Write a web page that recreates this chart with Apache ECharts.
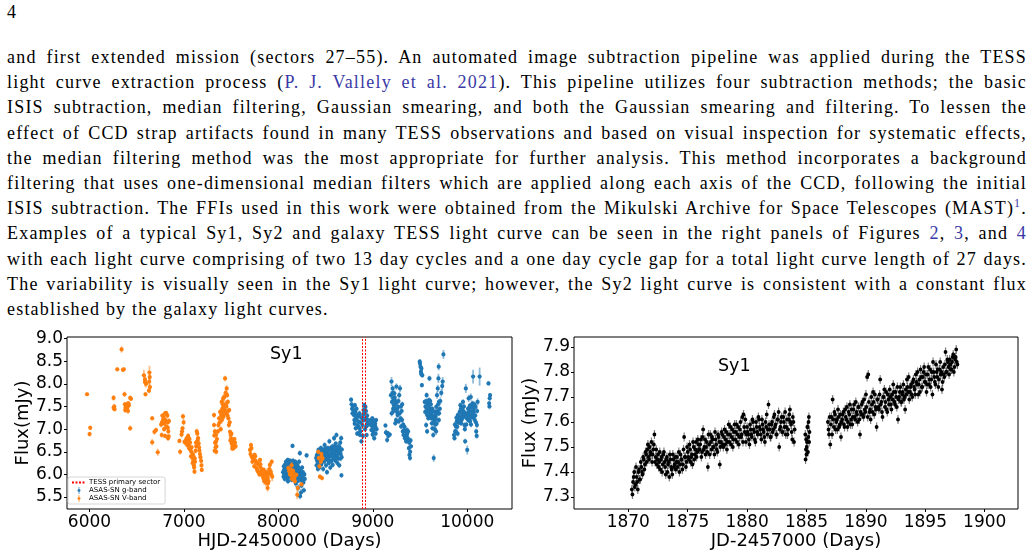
<!DOCTYPE html>
<html>
<head>
<meta charset="utf-8">
<script src="https://cdn.jsdelivr.net/npm/echarts@6/dist/echarts.min.js"></script>
<style>
  body { margin: 0; width: 1034px; height: 556px; overflow: hidden; background: #fff; }
  .txt { position: absolute; left: 7px; width: 1020px; font-family: "Liberation Serif", serif;
         font-size: 18px; line-height: 25px; letter-spacing: 1.2px; color: #000;
         text-align: justify; text-align-last: justify; }
  .txt.last { text-align-last: left; }
  .txt a { color: #3a3aa6; text-decoration: none; }
  .txt sup { font-size: 12px; line-height: 0; }
  #pageno { position: absolute; left: 7px; top: 2px; font-family: "Liberation Serif", serif; font-size: 18px; }
  #chart { position: absolute; left: 0; top: 0; width: 1034px; height: 556px; }
</style>
</head>
<body>
<div id="pageno">4</div>
<div class="txt" style="top:45px">and first extended mission (sectors 27–55). An automated image subtraction pipeline was applied during the TESS</div>
<div class="txt" style="top:70px">light curve extraction process (<a>P. J. Vallely et al. 2021</a>). This pipeline utilizes four subtraction methods; the basic</div>
<div class="txt" style="top:95px">ISIS subtraction, median filtering, Gaussian smearing, and both the Gaussian smearing and filtering. To lessen the</div>
<div class="txt" style="top:121px">effect of CCD strap artifacts found in many TESS observations and based on visual inspection for systematic effects,</div>
<div class="txt" style="top:146px">the median filtering method was the most appropriate for further analysis. This method incorporates a background</div>
<div class="txt" style="top:171px">filtering that uses one-dimensional median filters which are applied along each axis of the CCD, following the initial</div>
<div class="txt" style="top:196px">ISIS subtraction. The FFIs used in this work were obtained from the Mikulski Archive for Space Telescopes (MAST)<a><sup>1</sup></a>.</div>
<div class="txt" style="top:221px">Examples of a typical Sy1, Sy2 and galaxy TESS light curve can be seen in the right panels of Figures <a>2</a>, <a>3</a>, and <a>4</a></div>
<div class="txt" style="top:247px">with each light curve comprising of two 13 day cycles and a one day cycle gap for a total light curve length of 27 days.</div>
<div class="txt" style="top:272px">The variability is visually seen in the Sy1 light curve; however, the Sy2 light curve is consistent with a constant flux</div>
<div class="txt last" style="top:297px">established by the galaxy light curves.</div>
<div id="chart"></div>
<script>
// ASAS-SN V-band (HJD-2450000, mJy, error)
var vDay = [
  5974, 6001, 6008, 6255, 6255, 6265, 6294, 6340, 6354, 6364,
  6371, 6375, 6382, 6388, 6393, 6400, 6405, 6412, 6418, 6431,
  6431, 6440, 6576, 6587, 6593, 6600, 6630, 6635, 6638, 6640,
  6664, 6664, 6688, 6705, 6723, 6759, 6765, 6772, 6778, 6790,
  6800, 6800, 6810, 6818, 6825, 6830, 6835, 6838, 6842, 6952,
  6960, 6975, 6985, 6990, 6997, 7006, 7015, 7030, 7040, 7050,
  7059, 7068, 7075, 7082, 7088, 7094, 7100, 7106, 7112, 7118,
  7124, 7130, 7136, 7142, 7150, 7157, 7164, 7175, 7182, 7189,
  7319, 7319, 7322, 7325, 7330, 7340, 7340, 7342, 7345, 7365,
  7372, 7383, 7390, 7400, 7405, 7410, 7418, 7422, 7428, 7436,
  7440, 7445, 7453, 7458, 7465, 7471, 7476, 7480, 7488, 7495,
  7500, 7506, 7512, 7520, 7528, 7535, 7541, 7548, 7700, 7710,
  7718, 7725, 7740, 7748, 7760, 7770, 7780, 7785, 7795, 7800,
  7806, 7815, 7825, 7833, 7845, 7850, 7860, 7868, 7876, 7885,
  7886, 7895, 7900, 7910, 7918, 7930, 7935, 8105, 8115, 8123,
  8130, 8140, 8140, 8150, 8158, 8165, 8175, 8190, 8200, 8205,
  8245, 8422, 8428, 8435, 8440, 8450, 8455, 8458, 8462, 8468,
  6262, 6378, 6398, 6408, 6588, 6632, 6768, 6785, 6795, 6805,
  6815, 6828, 6832, 6980, 7020, 7035, 7045, 7055, 7065, 7078,
  7092, 7102, 7108, 7115, 7128, 7145, 7160, 7170, 7186, 7328,
  7335, 7350, 7360, 7378, 7395, 7402, 7412, 7416, 7425, 7432,
  7442, 7450, 7462, 7468, 7485, 7492, 7503, 7515, 7525, 7532,
  7705, 7715, 7730, 7745, 7755, 7765, 7775, 7790, 7810, 7820,
  7830, 7840, 7855, 7865, 7880, 7890, 7905, 7925, 8135, 8145,
  8155, 8170
];
var vFlux = [
  7.77, 6.89, 7.03, 7.69, 7.47, 7.44, 8.32, 8.76, 8.31, 8.32,
  7.77, 7.55, 7.48, 7.44, 7.52, 7.46, 7.50, 7.57, 7.53, 7.02,
  7.69, 7.67, 8.19, 8.04, 7.77, 8.00, 7.85, 8.25, 8.15, 7.93,
  7.24, 6.71, 6.94, 6.98, 6.49, 7.10, 6.87, 7.30, 7.20, 7.00,
  7.35, 6.85, 7.36, 7.32, 7.30, 7.03, 6.95, 6.84, 7.18, 6.74,
  6.50, 6.88, 7.02, 7.28, 7.15, 6.72, 6.70, 6.80, 6.72, 6.64,
  6.78, 6.55, 6.40, 6.60, 6.37, 6.45, 6.30, 6.20, 6.06, 6.28,
  6.52, 6.62, 6.95, 6.90, 6.80, 6.68, 6.53, 6.38, 6.30, 6.10,
  7.31, 7.09, 6.86, 6.52, 6.70, 6.87, 6.72, 6.50, 6.62, 7.09,
  7.24, 7.38, 7.00, 7.60, 7.45, 7.38, 7.27, 7.49, 7.71, 8.12,
  7.55, 7.35, 7.90, 7.75, 7.60, 7.24, 7.09, 7.42, 6.94, 6.87,
  6.79, 6.68, 6.57, 6.72, 6.65, 6.78, 6.70, 6.62, 6.54, 6.65,
  6.39, 6.28, 6.36, 6.43, 6.30, 6.14, 6.25, 6.07, 6.21, 6.00,
  6.32, 6.14, 5.99, 6.07, 6.10, 5.85, 5.99, 5.82, 5.92, 5.92,
  5.70, 5.85, 6.00, 6.21, 6.07, 6.28, 5.95, 6.14, 6.07, 6.00,
  6.10, 5.99, 6.20, 5.92, 6.05, 5.95, 5.85, 5.99, 5.55, 5.70,
  5.78, 6.50, 6.36, 6.18, 5.95, 6.28, 6.45, 6.39, 5.92, 6.35,
  7.50, 7.42, 7.55, 7.40, 8.10, 8.05, 7.15, 7.25, 7.12, 7.20,
  7.05, 7.15, 6.80, 6.95, 6.75, 6.65, 6.85, 6.58, 6.70, 6.50,
  6.25, 6.40, 6.15, 6.35, 6.70, 6.75, 6.60, 6.45, 6.20, 6.95,
  6.60, 6.78, 6.95, 7.15, 7.30, 7.20, 7.55, 7.68, 7.35, 7.42,
  7.80, 7.50, 7.30, 7.40, 7.15, 6.75, 6.90, 6.62, 6.58, 6.70,
  6.45, 6.58, 6.35, 6.18, 6.40, 6.25, 6.10, 6.05, 6.22, 6.05,
  6.00, 5.92, 6.05, 5.90, 6.05, 5.80, 6.12, 6.00, 6.02, 5.90,
  6.08, 5.92
];
var vErr = [
  .04, .05, .05, .06, .05, .05, .04, .07, .05, .04,
  .06, .05, .05, .06, .05, .05, .05, .05, .05, .06,
  .05, .05, .12, .10, .05, .08, .06, .15, .10, .08,
  .05, .07, .06, .05, .08, .06, .06, .05, .05, .05,
  .05, .05, .04, .05, .06, .06, .05, .05, .06, .05,
  .06, .06, .05, .06, .07, .05, .06, .05, .06, .05,
  .06, .06, .05, .05, .06, .06, .06, .05, .05, .06,
  .06, .05, .06, .05, .05, .06, .05, .06, .05, .05,
  .06, .05, .06, .05, .06, .05, .06, .06, .05, .06,
  .05, .06, .06, .08, .08, .07, .06, .08, .10, .06,
  .08, .07, .07, .06, .06, .06, .06, .05, .05, .06,
  .05, .06, .05, .06, .05, .05, .05, .06, .06, .05,
  .05, .06, .06, .05, .05, .06, .06, .05, .06, .06,
  .05, .06, .06, .05, .06, .08, .07, .08, .06, .10,
  .08, .06, .10, .06, .07, .06, .10, .05, .05, .06,
  .05, .05, .08, .05, .06, .05, .06, .05, .10, .06,
  .05, .05, .05, .06, .05, .05, .05, .05, .05, .06,
  .06, .06, .06, .06, .08, .08, .06, .06, .06, .06,
  .06, .06, .06, .06, .06, .06, .06, .06, .06, .06,
  .06, .06, .06, .06, .06, .06, .06, .06, .06, .06,
  .06, .06, .06, .06, .08, .08, .08, .08, .08, .08,
  .08, .08, .06, .06, .06, .06, .06, .06, .06, .06,
  .06, .06, .06, .06, .06, .06, .06, .06, .06, .06,
  .06, .06, .08, .08, .08, .10, .06, .08, .06, .06,
  .06, .06
];

// ASAS-SN g-band
var gDay = [
  8050, 8055, 8060, 8065, 8070, 8075, 8080, 8085, 8088, 8092,
  8097, 8100, 8105, 8108, 8112, 8118, 8122, 8150, 8132, 8136,
  8140, 8145, 8150, 8155, 8160, 8164, 8168, 8172, 8176, 8180,
  8184, 8188, 8192, 8195, 8200, 8204, 8208, 8212, 8216, 8220,
  8224, 8228, 8230, 8236, 8240, 8244, 8248, 8252, 8256, 8260,
  8265, 8270, 8275, 8280, 8299, 8400, 8405, 8410, 8415, 8420,
  8425, 8430, 8435, 8440, 8445, 8450, 8455, 8460, 8465, 8470,
  8475, 8480, 8485, 8490, 8495, 8500, 8505, 8510, 8515, 8520,
  8525, 8530, 8535, 8540, 8545, 8550, 8555, 8560, 8565, 8570,
  8575, 8580, 8585, 8590, 8595, 8600, 8605, 8610, 8615, 8620,
  8625, 8630, 8635, 8640, 8645, 8650, 8655, 8660, 8665, 8668,
  8670, 8672, 8770, 8775, 8780, 8785, 8790, 8795, 8800, 8805,
  8810, 8815, 8820, 8825, 8830, 8835, 8840, 8845, 8850, 8855,
  8860, 8865, 8870, 8880, 8885, 8890, 8895, 8898, 8902, 8906,
  8910, 8914, 8918, 8922, 8926, 8930, 8935, 8940, 8945, 8975,
  8980, 8985, 8990, 8995, 9000, 9005, 9010, 9015, 9020, 9025,
  9030, 9035, 9040, 9134, 9140, 9146, 9152, 9158, 9164, 9180,
  9192, 9198, 9203, 9210, 9215, 9216, 9222, 9225, 9228, 9234,
  9238, 9244, 9246, 9250, 9256, 9262, 9268, 9274, 9280, 9288,
  9294, 9300, 9306, 9312, 9318, 9325, 9332, 9340, 9346, 9352,
  9358, 9364, 9370, 9376, 9382, 9388, 9394, 9400, 9405, 9497,
  9500, 9505, 9510, 9512, 9515, 9520, 9525, 9550, 9555, 9562,
  9565, 9570, 9575, 9575, 9580, 9585, 9588, 9595, 9600, 9600,
  9605, 9612, 9615, 9620, 9625, 9630, 9632, 9640, 9640, 9645,
  9650, 9658, 9660, 9665, 9670, 9672, 9680, 9688, 9690, 9695,
  9698, 9700, 9700, 9710, 9748, 9860, 9865, 9872, 9880, 9880,
  9890, 9895, 9900, 9910, 9915, 9920, 9928, 9935, 9940, 9945,
  9955, 9960, 9962, 9970, 9975, 9978, 9985, 9990, 9995, 10000,
  10005, 10010, 10015, 10022, 10025, 10030, 10038, 10040, 10045, 10050,
  10055, 10062, 10065, 10070, 10080, 10085, 10088, 10095, 10100, 10102,
  10105, 10131, 10225, 10232, 10235, 10238, 10242,
  8058, 8068, 8078, 8090, 8102, 8115, 8125, 8138, 8148, 8158,
  8170, 8178, 8186, 8198, 8206, 8214, 8222, 8234, 8246, 8258,
  8408, 8418, 8428, 8438, 8448, 8458, 8468, 8478, 8488, 8498,
  8508, 8518, 8528, 8538, 8548, 8558, 8568, 8578, 8588, 8598,
  8608, 8618, 8628, 8638, 8648, 8658, 8798, 8808, 8818, 8828,
  8848, 8858, 8868, 8928, 8938, 8950, 8985, 8998, 9012, 9028,
  9200, 9212, 9220, 9232, 9240, 9252, 9260, 9272, 9284, 9298,
  9310, 9322, 9336, 9350, 9362, 9374, 9386, 9396, 9558, 9568,
  9578, 9590, 9598, 9608, 9618, 9628, 9636, 9648, 9655, 9662,
  9668, 9676, 9685, 9692, 9702, 9715, 9725, 9735, 9740, 9870,
  9885, 9898, 9905, 9925, 9932, 9948, 9952, 9965, 9982, 9998,
  10008, 10018, 10028, 10035, 10048, 10058, 10068, 10075, 10092, 10110
];
var gFlux = [
  6.05, 5.95, 6.10, 6.00, 6.21, 6.05, 6.28, 5.98, 6.07, 6.15,
  5.92, 6.32, 6.02, 6.18, 5.95, 6.25, 6.10, 6.63, 6.00, 6.11,
  5.88, 6.18, 6.03, 6.30, 6.21, 5.90, 6.14, 6.05, 5.99, 6.28,
  5.80, 5.92, 6.12, 6.07, 5.85, 6.18, 5.70, 5.99, 6.08, 6.28,
  5.88, 6.47, 5.52, 6.02, 5.60, 5.75, 5.95, 6.15, 5.85, 6.05,
  5.82, 5.65, 6.00, 5.90, 6.42, 6.36, 6.20, 6.30, 6.45, 6.25,
  6.54, 6.40, 6.15, 6.43, 6.35, 6.58, 6.22, 6.47, 6.30, 6.39,
  6.12, 6.50, 6.28, 6.65, 6.35, 6.42, 6.20, 6.50, 6.05, 6.32,
  6.58, 6.45, 6.25, 6.73, 6.40, 6.15, 6.43, 6.60, 6.30, 6.48,
  6.21, 6.54, 6.36, 6.80, 6.45, 6.61, 6.30, 6.52, 6.87, 6.40,
  6.25, 6.55, 6.35, 6.62, 6.20, 6.48, 6.70, 6.45, 6.80, 5.98,
  6.38, 6.55, 7.65, 7.55, 7.45, 7.35, 7.50, 7.42, 7.31, 7.20,
  7.53, 7.38, 7.02, 7.24, 7.31, 6.90, 7.09, 7.17, 6.91, 7.28,
  7.02, 6.87, 7.15, 6.73, 7.24, 7.09, 6.85, 7.31, 7.42, 7.20,
  7.53, 7.38, 7.00, 7.49, 7.24, 7.06, 6.87, 7.30, 7.15, 7.20,
  7.09, 6.98, 7.17, 7.24, 7.06, 6.95, 7.09, 6.80, 7.02, 7.12,
  6.90, 7.20, 7.00, 7.08, 6.93, 6.91, 6.76, 6.91, 6.85, 6.88,
  7.75, 8.05, 7.60, 7.90, 7.45, 7.68, 7.53, 7.65, 7.79, 7.46,
  7.13, 7.60, 7.20, 7.94, 7.38, 7.31, 7.49, 7.17, 7.75, 7.90,
  7.24, 7.06, 7.40, 7.55, 6.95, 6.87, 6.98, 6.80, 6.95, 6.73,
  6.87, 6.90, 6.80, 6.73, 6.58, 6.43, 6.36, 6.75, 6.62, 8.49,
  8.45, 8.38, 8.27, 8.22, 8.34, 7.97, 8.19, 7.60, 7.38, 7.49,
  7.09, 7.75, 7.31, 6.95, 7.57, 7.40, 7.24, 7.64, 8.12, 7.30,
  7.46, 7.35, 7.55, 7.24, 7.13, 7.45, 7.02, 6.87, 7.25, 6.36,
  7.20, 7.38, 7.10, 7.28, 6.95, 7.49, 7.75, 7.90, 7.35, 8.12,
  8.38, 7.60, 7.20, 7.45, 8.65, 6.87, 6.80, 6.95, 7.06, 6.95,
  7.17, 7.05, 7.31, 7.24, 7.15, 7.38, 7.53, 7.13, 7.20, 7.46,
  7.60, 7.40, 7.28, 7.09, 7.00, 6.73, 7.90, 7.10, 7.24, 6.54,
  7.35, 7.20, 7.68, 7.46, 7.30, 7.17, 7.71, 7.10, 7.31, 7.40,
  7.57, 8.16, 7.25, 7.38, 7.20, 7.30, 7.49, 6.95, 6.85, 7.09,
  7.40, 8.16, 8.01, 7.57, 7.50, 7.68, 7.75,
  6.18, 5.90, 6.12, 6.25, 5.85, 6.05, 6.30, 6.22, 5.95, 6.10,
  6.20, 5.88, 6.02, 6.22, 5.95, 6.15, 6.00, 6.10, 5.90, 5.98,
  6.42, 6.12, 6.30, 6.52, 6.25, 6.38, 6.55, 6.33, 6.45, 6.58,
  6.38, 6.48, 6.33, 6.55, 6.30, 6.52, 6.40, 6.62, 6.50, 6.35,
  6.68, 6.58, 6.45, 6.52, 6.60, 6.35, 7.40, 7.12, 7.22, 7.45,
  7.05, 7.35, 6.95, 7.40, 7.22, 7.10, 7.12, 6.88, 7.18, 7.05,
  7.35, 7.80, 7.40, 7.70, 7.55, 7.60, 7.45, 7.62, 7.35, 7.50,
  7.20, 7.10, 7.05, 6.85, 6.98, 6.95, 6.70, 6.50, 7.50, 7.62,
  7.42, 7.52, 7.40, 7.62, 7.38, 7.30, 7.40, 7.15, 7.00, 7.32,
  7.22, 7.12, 7.40, 7.55, 7.35, 7.62, 7.80, 7.95, 8.05, 7.10,
  7.25, 6.90, 7.15, 7.28, 7.45, 7.35, 7.25, 7.50, 7.35, 7.30,
  7.45, 7.38, 7.52, 7.25, 7.50, 7.35, 7.45, 7.55, 7.15, 7.60
];
var gErr = [
  .06, .07, .06, .05, .06, .05, .06, .06, .05, .05,
  .06, .05, .06, .05, .06, .06, .05, .05, .05, .06,
  .06, .05, .06, .06, .06, .07, .06, .05, .06, .06,
  .08, .06, .06, .05, .07, .06, .08, .06, .06, .06,
  .07, .06, .07, .06, .08, .06, .06, .06, .06, .05,
  .06, .06, .06, .06, .05, .05, .06, .05, .06, .05,
  .06, .05, .06, .06, .05, .06, .06, .05, .06, .05,
  .06, .06, .05, .06, .06, .05, .06, .06, .06, .05,
  .06, .06, .05, .06, .05, .06, .06, .06, .05, .06,
  .06, .06, .05, .06, .06, .06, .05, .06, .06, .05,
  .06, .06, .05, .06, .06, .06, .06, .06, .06, .05,
  .05, .06, .05, .06, .05, .06, .05, .06, .05, .06,
  .05, .06, .06, .05, .06, .05, .06, .05, .06, .05,
  .06, .05, .06, .06, .08, .07, .06, .07, .06, .06,
  .06, .06, .06, .05, .06, .06, .05, .06, .05, .05,
  .06, .05, .06, .05, .06, .05, .06, .06, .05, .06,
  .05, .05, .06, .05, .06, .05, .06, .05, .05, .05,
  .08, .10, .06, .06, .06, .06, .06, .06, .07, .06,
  .06, .06, .06, .07, .06, .06, .06, .06, .07, .08,
  .06, .06, .06, .06, .06, .05, .06, .06, .05, .06,
  .05, .06, .06, .05, .06, .06, .06, .06, .05, .06,
  .08, .07, .06, .07, .06, .05, .06, .06, .06, .06,
  .06, .06, .06, .06, .06, .06, .06, .06, .06, .06,
  .06, .06, .06, .06, .06, .06, .06, .06, .06, .08,
  .06, .06, .06, .06, .08, .06, .08, .08, .06, .10,
  .08, .06, .06, .06, .10, .06, .06, .06, .06, .05,
  .06, .06, .06, .06, .06, .06, .06, .06, .06, .06,
  .06, .06, .06, .06, .06, .06, .10, .06, .06, .10,
  .06, .06, .08, .06, .06, .06, .08, .06, .06, .06,
  .06, .15, .06, .06, .06, .06, .06, .06, .06, .06,
  .06, .20, .05, .05, .06, .06, .05,
  .06, .06, .06, .06, .06, .06, .06, .06, .06, .06,
  .06, .06, .06, .06, .06, .06, .06, .06, .06, .06,
  .06, .06, .06, .06, .06, .06, .06, .06, .06, .06,
  .06, .06, .06, .06, .06, .06, .06, .06, .06, .06,
  .06, .06, .06, .06, .06, .06, .06, .06, .06, .06,
  .06, .06, .06, .06, .06, .06, .06, .06, .06, .06,
  .07, .08, .07, .07, .07, .07, .07, .07, .07, .07,
  .06, .06, .06, .06, .06, .06, .06, .06, .06, .06,
  .06, .06, .06, .06, .06, .06, .06, .06, .06, .06,
  .06, .06, .06, .06, .06, .08, .08, .10, .10, .06,
  .06, .06, .06, .06, .06, .06, .06, .06, .06, .06,
  .06, .06, .06, .06, .06, .06, .06, .06, .06, .08
];

// TESS primary sector edges (HJD-2450000)
var sectorEdges = [8893, 8917];

// TESS light curve (JD-2457000, mJy)
var tessDay = [
  1870.3, 1870.4, 1870.5, 1870.6, 1870.7, 1870.8, 1870.9,
  1871.0, 1871.1, 1871.2, 1871.3, 1871.4, 1871.5, 1871.6, 1871.7, 1871.8, 1871.9,
  1872.0, 1872.1, 1872.2, 1872.3, 1872.4, 1872.5, 1872.6, 1872.7, 1872.8, 1872.9,
  1873.0, 1873.1, 1873.2, 1873.3, 1873.4, 1873.5, 1873.6, 1873.7, 1873.8, 1873.9,
  1874.0, 1874.1, 1874.2, 1874.3, 1874.4, 1874.5, 1874.6, 1874.7, 1874.8, 1874.9,
  1875.0, 1875.1, 1875.2, 1875.3, 1875.4, 1875.5, 1875.6, 1875.7, 1875.8, 1875.9,
  1876.0, 1876.1, 1876.2, 1876.3, 1876.4, 1876.5, 1876.6, 1876.7, 1876.8, 1876.9,
  1877.0, 1877.1, 1877.2, 1877.3, 1877.4, 1877.5, 1877.6, 1877.7, 1877.8, 1877.9,
  1878.0, 1878.1, 1878.2, 1878.3, 1878.4, 1878.5, 1878.6, 1878.7, 1878.8, 1878.9,
  1879.0, 1879.1, 1879.2, 1879.3, 1879.4, 1879.5, 1879.6, 1879.7, 1879.8, 1879.9,
  1880.0, 1880.1, 1880.2, 1880.3, 1880.4, 1880.5, 1880.6, 1880.7, 1880.8, 1880.9,
  1881.0, 1881.1, 1881.2, 1881.3, 1881.4, 1881.5, 1881.6, 1881.7, 1881.8, 1881.9,
  1882.0, 1882.1, 1882.2, 1882.3, 1882.4, 1882.5, 1882.6, 1882.7, 1882.8, 1882.9,
  1883.0, 1883.1, 1883.2, 1883.3, 1883.4, 1883.5, 1883.6, 1883.7, 1883.8, 1883.9,
  1884.0,
  1884.90, 1884.95, 1885.00, 1885.05, 1885.10, 1885.15, 1885.20, 1885.25,
  1886.8, 1886.9,
  1887.0, 1887.1, 1887.2, 1887.3, 1887.4, 1887.5, 1887.6, 1887.7, 1887.8, 1887.9,
  1888.0, 1888.1, 1888.2, 1888.3, 1888.4, 1888.5, 1888.6, 1888.7, 1888.8, 1888.9,
  1889.0, 1889.1, 1889.2, 1889.3, 1889.4, 1889.5, 1889.6, 1889.7, 1889.8, 1889.9,
  1890.0, 1890.1, 1890.2, 1890.3, 1890.4, 1890.5, 1890.6, 1890.7, 1890.8, 1890.9,
  1891.0, 1891.1, 1891.2, 1891.3, 1891.4, 1891.5, 1891.6, 1891.7, 1891.8, 1891.9,
  1892.0, 1892.1, 1892.2, 1892.3, 1892.4, 1892.5, 1892.6, 1892.7, 1892.8, 1892.9,
  1893.0, 1893.1, 1893.2, 1893.3, 1893.4, 1893.5, 1893.6, 1893.7, 1893.8, 1893.9,
  1894.0, 1894.1, 1894.2, 1894.3, 1894.4, 1894.5, 1894.6, 1894.7, 1894.8, 1894.9,
  1895.0, 1895.1, 1895.2, 1895.3, 1895.4, 1895.5, 1895.6, 1895.7, 1895.8, 1895.9,
  1896.0, 1896.1, 1896.2, 1896.3, 1896.4, 1896.5, 1896.6, 1896.7, 1896.8, 1896.9,
  1897.0, 1897.1, 1897.2, 1897.3, 1897.4, 1897.5, 1897.6, 1897.7,
  // interleaved half-step samples
  1870.35, 1870.45, 1870.55, 1870.65, 1870.75, 1870.85, 1870.95,
  1871.05, 1871.15, 1871.25, 1871.35, 1871.45, 1871.55, 1871.65, 1871.75, 1871.85, 1871.95,
  1872.05, 1872.15, 1872.25, 1872.35, 1872.45, 1872.55, 1872.65, 1872.75, 1872.85, 1872.95,
  1873.05, 1873.15, 1873.25, 1873.35, 1873.45, 1873.55, 1873.65, 1873.75, 1873.85, 1873.95,
  1874.05, 1874.15, 1874.25, 1874.35, 1874.45, 1874.55, 1874.65, 1874.75, 1874.85, 1874.95,
  1875.05, 1875.15, 1875.25, 1875.35, 1875.45, 1875.55, 1875.65, 1875.75, 1875.85, 1875.95,
  1876.05, 1876.15, 1876.25, 1876.35, 1876.45, 1876.55, 1876.65, 1876.75, 1876.85, 1876.95,
  1877.05, 1877.15, 1877.25, 1877.35, 1877.45, 1877.55, 1877.65, 1877.75, 1877.85, 1877.95,
  1878.05, 1878.15, 1878.25, 1878.35, 1878.45, 1878.55, 1878.65, 1878.75, 1878.85, 1878.95,
  1879.05, 1879.15, 1879.25, 1879.35, 1879.45, 1879.55, 1879.65, 1879.75, 1879.85, 1879.95,
  1880.05, 1880.15, 1880.25, 1880.35, 1880.45, 1880.55, 1880.65, 1880.75, 1880.85, 1880.95,
  1881.05, 1881.15, 1881.25, 1881.35, 1881.45, 1881.55, 1881.65, 1881.75, 1881.85, 1881.95,
  1882.05, 1882.15, 1882.25, 1882.35, 1882.45, 1882.55, 1882.65, 1882.75, 1882.85, 1882.95,
  1883.05, 1883.15, 1883.25, 1883.35, 1883.45, 1883.55, 1883.65, 1883.75, 1883.85, 1883.95,
  1884.92, 1884.97, 1885.02, 1885.07, 1885.12, 1885.17, 1885.22,
  1886.85, 1886.95,
  1887.05, 1887.15, 1887.25, 1887.35, 1887.45, 1887.55, 1887.65, 1887.75, 1887.85, 1887.95,
  1888.05, 1888.15, 1888.25, 1888.35, 1888.45, 1888.55, 1888.65, 1888.75, 1888.85, 1888.95,
  1889.05, 1889.15, 1889.25, 1889.35, 1889.45, 1889.55, 1889.65, 1889.75, 1889.85, 1889.95,
  1890.05, 1890.15, 1890.25, 1890.35, 1890.45, 1890.55, 1890.65, 1890.75, 1890.85, 1890.95,
  1891.05, 1891.15, 1891.25, 1891.35, 1891.45, 1891.55, 1891.65, 1891.75, 1891.85, 1891.95,
  1892.05, 1892.15, 1892.25, 1892.35, 1892.45, 1892.55, 1892.65, 1892.75, 1892.85, 1892.95,
  1893.05, 1893.15, 1893.25, 1893.35, 1893.45, 1893.55, 1893.65, 1893.75, 1893.85, 1893.95,
  1894.05, 1894.15, 1894.25, 1894.35, 1894.45, 1894.55, 1894.65, 1894.75, 1894.85, 1894.95,
  1895.05, 1895.15, 1895.25, 1895.35, 1895.45, 1895.55, 1895.65, 1895.75, 1895.85, 1895.95,
  1896.05, 1896.15, 1896.25, 1896.35, 1896.45, 1896.55, 1896.65, 1896.75, 1896.85, 1896.95,
  1897.05, 1897.15, 1897.25, 1897.35, 1897.45, 1897.55, 1897.65
];
var tessFlux = [
  7.33, 7.36, 7.40, 7.35, 7.38, 7.33, 7.41,
  7.37, 7.42, 7.39, 7.45, 7.43, 7.47, 7.49, 7.46, 7.50, 7.47,
  7.44, 7.49, 7.55, 7.46, 7.43, 7.47, 7.44, 7.41, 7.46, 7.43,
  7.48, 7.42, 7.45, 7.40, 7.44, 7.47, 7.42, 7.39, 7.45, 7.43,
  7.41, 7.46, 7.44, 7.40, 7.47, 7.45, 7.43, 7.54, 7.46, 7.44,
  7.48, 7.45, 7.49, 7.46, 7.43, 7.50, 7.47, 7.52, 7.48, 7.51,
  7.49, 7.53, 7.48, 7.57, 7.50, 7.47, 7.52, 7.42, 7.51, 7.55,
  7.49, 7.53, 7.50, 7.56, 7.51, 7.48, 7.54, 7.43, 7.52, 7.55,
  7.50, 7.57, 7.53, 7.49, 7.55, 7.52, 7.58, 7.54, 7.50, 7.56,
  7.53, 7.59, 7.55, 7.51, 7.57, 7.54, 7.62, 7.63, 7.56, 7.52,
  7.58, 7.55, 7.51, 7.57, 7.54, 7.60, 7.56, 7.52, 7.58, 7.55,
  7.61, 7.57, 7.53, 7.59, 7.56, 7.52, 7.58, 7.55, 7.67, 7.57,
  7.54, 7.60, 7.57, 7.63, 7.59, 7.55, 7.61, 7.50, 7.58, 7.62,
  7.56, 7.60, 7.64, 7.58, 7.55, 7.61, 7.65, 7.59, 7.53, 7.60,
  7.57,
  7.55, 7.49, 7.47, 7.52, 7.58, 7.54, 7.62, 7.56,
  7.60, 7.55,
  7.51, 7.62, 7.69, 7.58, 7.63, 7.60, 7.57, 7.62, 7.59, 7.54,
  7.61, 7.64, 7.58, 7.62, 7.66, 7.60, 7.63, 7.59, 7.65, 7.62,
  7.67, 7.61, 7.64, 7.60, 7.66, 7.55, 7.63, 7.68, 7.62, 7.65,
  7.71, 7.78, 7.79, 7.64, 7.61, 7.67, 7.72, 7.63, 7.66, 7.58,
  7.69, 7.65, 7.77, 7.68, 7.62, 7.70, 7.66, 7.72, 7.64, 7.69,
  7.73, 7.67, 7.71, 7.75, 7.68, 7.72, 7.66, 7.61, 7.70, 7.74,
  7.68, 7.72, 7.69, 7.65, 7.71, 7.74, 7.78, 7.72, 7.75, 7.70,
  7.77, 7.73, 7.79, 7.75, 7.71, 7.77, 7.81, 7.74, 7.78, 7.82,
  7.76, 7.72, 7.79, 7.75, 7.81, 7.77, 7.71, 7.80, 7.76, 7.83,
  7.78, 7.74, 7.81, 7.79, 7.73, 7.82, 7.78, 7.88, 7.80, 7.84,
  7.79, 7.83, 7.81, 7.86, 7.80, 7.85, 7.89, 7.83,
  // interleaved half-step samples
  7.31, 7.38, 7.34, 7.42, 7.36, 7.40, 7.37,
  7.44, 7.40, 7.46, 7.41, 7.48, 7.44, 7.51, 7.45, 7.48, 7.52,
  7.47, 7.51, 7.44, 7.49, 7.45, 7.42, 7.48, 7.45, 7.40, 7.47,
  7.44, 7.39, 7.46, 7.43, 7.38, 7.45, 7.41, 7.47, 7.42, 7.46,
  7.44, 7.42, 7.48, 7.43, 7.45, 7.41, 7.49, 7.46, 7.42, 7.50,
  7.46, 7.51, 7.44, 7.47, 7.52, 7.45, 7.49, 7.46, 7.53, 7.49,
  7.51, 7.46, 7.54, 7.49, 7.53, 7.50, 7.48, 7.55, 7.47, 7.52,
  7.54, 7.50, 7.47, 7.53, 7.49, 7.55, 7.52, 7.50, 7.56, 7.51,
  7.54, 7.51, 7.56, 7.52, 7.59, 7.55, 7.51, 7.57, 7.53, 7.59,
  7.56, 7.52, 7.58, 7.54, 7.60, 7.55, 7.52, 7.58, 7.61, 7.55,
  7.56, 7.53, 7.59, 7.55, 7.61, 7.57, 7.53, 7.60, 7.56, 7.62,
  7.58, 7.55, 7.61, 7.57, 7.54, 7.60, 7.63, 7.57, 7.59, 7.54,
  7.59, 7.56, 7.62, 7.58, 7.55, 7.61, 7.64, 7.57, 7.60, 7.56,
  7.62, 7.58, 7.55, 7.61, 7.57, 7.63, 7.60, 7.56, 7.62, 7.52,
  7.45, 7.53, 7.50, 7.58, 7.48, 7.60, 7.52,
  7.57, 7.62,
  7.59, 7.55, 7.61, 7.64, 7.57, 7.61, 7.65, 7.58, 7.63, 7.60,
  7.63, 7.59, 7.65, 7.61, 7.58, 7.64, 7.67, 7.61, 7.59, 7.65,
  7.62, 7.68, 7.63, 7.66, 7.61, 7.64, 7.67, 7.63, 7.69, 7.64,
  7.66, 7.62, 7.68, 7.65, 7.70, 7.64, 7.68, 7.71, 7.65, 7.69,
  7.66, 7.71, 7.67, 7.64, 7.70, 7.73, 7.68, 7.65, 7.71, 7.67,
  7.70, 7.65, 7.69, 7.72, 7.67, 7.70, 7.74, 7.69, 7.72, 7.68,
  7.71, 7.75, 7.70, 7.73, 7.77, 7.72, 7.69, 7.74, 7.71, 7.76,
  7.74, 7.71, 7.76, 7.80, 7.75, 7.72, 7.78, 7.74, 7.80, 7.76,
  7.79, 7.75, 7.82, 7.77, 7.74, 7.80, 7.84, 7.78, 7.75, 7.80,
  7.81, 7.77, 7.84, 7.80, 7.76, 7.79, 7.83, 7.80, 7.85, 7.82,
  7.85, 7.81, 7.84, 7.87, 7.82, 7.86, 7.84
];
var tessErr = 0.018;

// tick labels
var leftXTicks = [6000, 7000, 8000, 9000, 10000];
var leftYTicks = [5.5, 6.0, 6.5, 7.0, 7.5, 8.0, 8.5, 9.0];
var rightXTicks = [1870, 1875, 1880, 1885, 1890, 1895, 1900];
var rightYTicks = [7.3, 7.4, 7.5, 7.6, 7.7, 7.8, 7.9];

var BLUE = "#1f77b4";
var ORANGE = "#ff7f0e";
var FONT = "DejaVu Sans";

function rows(xs, ys, es) {
  return xs.map(function(x, i) {
    return [x, ys[i], Array.isArray(es) ? es[i] : es];
  });
}

// marker + vertical error bar
function errorBar(color, r, barWidth, barOpacity) {
  return function(params, api) {
    var x = api.value(0), y = api.value(1), e = api.value(2);
    var p = api.coord([x, y]);
    var hi = api.coord([x, y + e]);
    var lo = api.coord([x, y - e]);
    return {
      type: "group",
      children: [
        { type: "line", shape: { x1: p[0], y1: hi[1], x2: p[0], y2: lo[1] },
          style: { stroke: color, lineWidth: barWidth, opacity: barOpacity } },
        { type: "circle", shape: { cx: p[0], cy: p[1], r: r },
          style: { fill: color } }
      ]
    };
  };
}

function valueAxis(grid, min, max, ticks, digits, extra) {
  var ax = {
    gridIndex: grid,
    type: "value",
    min: min,
    max: max,
    axisLine: { show: false },
    splitLine: { show: false },
    axisTick: { show: true, length: 3, lineStyle: { color: "#000" }, customValues: ticks },
    axisLabel: {
      customValues: ticks,
      color: "#000",
      fontFamily: FONT,
      fontSize: 17,
      formatter: function(v) { return digits ? v.toFixed(digits) : String(v); }
    },
    nameLocation: "middle",
    nameTextStyle: { color: "#000", fontFamily: FONT, fontSize: 18 }
  };
  for (var k in extra) {
    if (k === "axisLabel") Object.assign(ax.axisLabel, extra[k]);
    else ax[k] = extra[k];
  }
  return ax;
}

var markerIcon = "path://M2.6,0h0.8v8h-0.8z M4.8,4L4.27,5.27L3,5.8L1.73,5.27L1.2,4L1.73,2.73L3,2.2L4.27,2.73z";

var chart = echarts.init(document.getElementById("chart"));

var option = {
  animation: false,
  grid: [
    { left: 67, top: 337, width: 445, height: 172, show: true, borderColor: "#000", borderWidth: 1 },
    { left: 574, top: 337, width: 444, height: 172, show: true, borderColor: "#000", borderWidth: 1 }
  ],
  xAxis: [
    valueAxis(0, 5762, 10474, leftXTicks, 0, { name: "HJD-2450000 (Days)", nameGap: 22, axisLabel: { margin: 5 } }),
    valueAxis(1, 1865.43, 1902.8, rightXTicks, 0, { name: "JD-2457000 (Days)", nameGap: 22, axisLabel: { margin: 5 } })
  ],
  yAxis: [
    valueAxis(0, 5.236, 9.035, leftYTicks, 1, { name: "Flux(mJy)", nameGap: 33, axisLabel: { margin: 4 } }),
    valueAxis(1, 7.252, 7.94, rightYTicks, 1, { name: "Flux (mJy)", nameGap: 35, axisLabel: { margin: 4 } })
  ],
  legend: {
    left: 68,
    top: 477,
    orient: "vertical",
    itemGap: 1,
    itemWidth: 14,
    itemHeight: 7,
    padding: [2, 5, 2, 3],
    backgroundColor: "rgba(255,255,255,0.8)",
    borderColor: "#ccc",
    borderWidth: 0.8,
    borderRadius: 2,
    textStyle: { fontFamily: FONT, fontSize: 7, color: "#000", padding: [0, 0, 0, -2] },
    data: [
      { name: "TESS primary sector", itemStyle: { opacity: 0 } },
      { name: "ASAS-SN g-band", icon: markerIcon },
      { name: "ASAS-SN V-band", icon: markerIcon }
    ]
  },
  graphic: [
    { type: "text", left: 270, top: 345, style: { text: "Sy1", fill: "#000", font: "17.5px DejaVu Sans" } },
    { type: "text", left: 718, top: 357, style: { text: "Sy1", fill: "#000", font: "17.5px DejaVu Sans" } }
  ],
  series: [
    {
      name: "TESS primary sector",
      type: "line",
      xAxisIndex: 0,
      yAxisIndex: 0,
      data: [],
      symbol: "none",
      itemStyle: { color: "#ff0000" },
      lineStyle: { color: "#ff0000", type: [2, 1.5], width: 1 },
      markLine: {
        silent: true,
        symbol: ["none", "none"],
        label: { show: false },
        lineStyle: { color: "#ff0000", type: [2, 1.5], width: 1 },
        data: sectorEdges.map(function(d) { return { xAxis: d }; })
      }
    },
    {
      name: "ASAS-SN g-band",
      type: "custom",
      xAxisIndex: 0,
      yAxisIndex: 0,
      clip: true,
      itemStyle: { color: BLUE },
      renderItem: errorBar(BLUE, 2.1, 1.8, 0.5),
      encode: { x: 0, y: 1 },
      data: rows(gDay, gFlux, gErr)
    },
    {
      name: "ASAS-SN V-band",
      type: "custom",
      xAxisIndex: 0,
      yAxisIndex: 0,
      clip: true,
      itemStyle: { color: ORANGE },
      renderItem: errorBar(ORANGE, 2.1, 1.8, 0.5),
      encode: { x: 0, y: 1 },
      data: rows(vDay, vFlux, vErr)
    },
    {
      name: "TESS",
      type: "custom",
      xAxisIndex: 1,
      yAxisIndex: 1,
      clip: true,
      itemStyle: { color: "#000" },
      renderItem: errorBar("#000", 1.9, 1.2, 0.5),
      encode: { x: 0, y: 1 },
      data: rows(tessDay, tessFlux, tessErr)
    }
  ]
};

chart.setOption(option);
</script>
</body>
</html>
